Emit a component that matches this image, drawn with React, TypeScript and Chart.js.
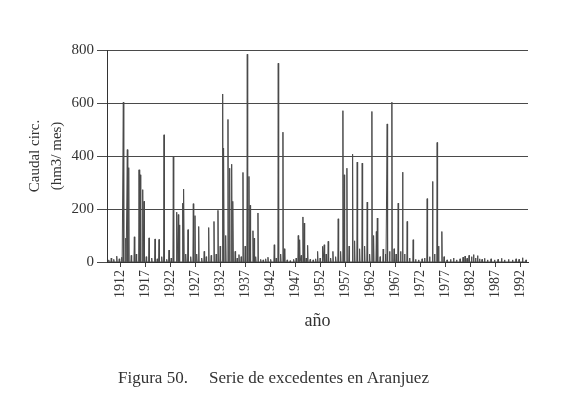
import React, { useEffect, useRef } from "react";
import Chart from "chart.js/auto";

const spikeYear = [
  1909.6, 1910.1, 1910.6, 1911.2, 1911.7, 1912.2, 1912.52, 1913.0, 1913.32, 1913.6,
  1914.1, 1914.72, 1915.1, 1915.66, 1915.92, 1916.4, 1916.66, 1917.1, 1917.66, 1918.2,
  1918.86, 1919.3, 1919.66, 1920.2, 1920.66, 1921.2, 1921.66, 1922.1, 1922.52, 1923.2,
  1923.52, 1923.75, 1924.4, 1924.62, 1925.0, 1925.46, 1926.0, 1926.52, 1926.86, 1927.2,
  1927.6, 1928.2, 1928.7, 1929.1, 1929.6, 1930.1, 1930.66, 1931.1, 1931.46, 1931.9,
  1932.4, 1932.62, 1933.0, 1933.46, 1933.8, 1934.2, 1934.46, 1934.9, 1935.3, 1935.66,
  1936.1, 1936.46, 1936.9, 1937.32, 1937.66, 1937.9, 1938.46, 1938.7, 1939.0, 1939.46,
  1940.0, 1940.5, 1941.0, 1941.46, 1942.0, 1942.72, 1943.1, 1943.52, 1944.0, 1944.46,
  1944.75, 1945.3, 1945.9, 1946.6, 1947.1, 1947.52, 1947.8, 1948.1, 1948.46, 1948.72,
  1949.1, 1949.4, 1949.9, 1950.5, 1951.0, 1951.4, 1951.9, 1952.4, 1952.72, 1953.1,
  1953.52, 1954.0, 1954.46, 1955.0, 1955.52, 1956.0, 1956.46, 1956.72, 1957.26, 1957.7,
  1958.4, 1958.8, 1959.32, 1959.8, 1960.32, 1960.8, 1961.32, 1961.8, 1962.26, 1962.6,
  1963.15, 1963.35, 1963.9, 1964.52, 1965.0, 1965.32, 1965.8, 1966.26, 1966.7, 1967.1,
  1967.52, 1968.0, 1968.4, 1968.8, 1969.32, 1969.8, 1970.52, 1971.0, 1971.6, 1972.3,
  1972.8, 1973.32, 1973.8, 1974.4, 1974.8, 1975.32, 1975.6, 1976.26, 1976.7, 1977.3,
  1978.0, 1978.6, 1979.2, 1979.9, 1980.5, 1980.9, 1981.3, 1981.7, 1982.2, 1982.6,
  1983.0, 1983.4, 1983.8, 1984.3, 1984.8, 1985.4, 1986.1, 1986.8, 1987.5, 1988.2,
  1988.8, 1989.6, 1990.4, 1991.1, 1991.7, 1992.4, 1993.1,
];

const spikeFlow = [
  8, 15, 10, 22, 12, 18, 603, 90, 424, 356,
  25, 95, 30, 348, 329, 273, 229, 20, 91, 15,
  87, 12, 85, 20, 480, 10, 45, 15, 398, 188,
  179, 140, 222, 275, 30, 122, 20, 220, 175, 30,
  134, 15, 40, 20, 130, 25, 153, 30, 195, 60,
  634, 430, 100, 538, 354, 369, 229, 40, 15, 28,
  20, 338, 60, 784, 323, 214, 118, 90, 20, 185,
  10, 8, 12, 18, 10, 65, 15, 750, 30, 490,
  50, 8, 5, 10, 15, 100, 84, 25, 170, 147,
  15, 63, 10, 8, 12, 40, 15, 59, 65, 30,
  78, 15, 40, 20, 163, 40, 571, 329, 354, 60,
  407, 80, 377, 50, 373, 60, 226, 30, 568, 100,
  115, 166, 20, 49, 30, 521, 40, 603, 50, 30,
  222, 40, 339, 30, 153, 15, 84, 10, 8, 12,
  15, 239, 20, 304, 30, 451, 60, 115, 20, 8,
  10, 15, 8, 12, 18, 22, 14, 25, 20, 28,
  15, 24, 12, 10, 14, 8, 12, 8, 10, 14,
  8, 10, 8, 12, 10, 16, 8,
];

const baseFlow = 0;
const yTickValues = [0, 200, 400, 600, 800];
const xTickYears = [1912, 1917, 1922, 1927, 1932, 1937, 1942, 1947, 1952, 1957, 1962, 1967, 1972, 1977, 1982, 1987, 1992];
const yTitle = ["Caudal circ.", "(hm3/ mes)"];
const xTitle = "año";
const captionNumber = "Figura 50.";
const captionText = "Serie de excedentes en Aranjuez";

const FONT = "'Liberation Serif', 'DejaVu Serif', serif";

export default function App() {
  const ref = useRef<HTMLCanvasElement>(null);

  useEffect(() => {
    document.body.style.margin = "0";
    const pts: { x: number; y: number }[] = [];
    spikeYear.forEach((yr, i) => {
      pts.push({ x: yr - 1 / 12, y: baseFlow });
      pts.push({ x: yr, y: spikeFlow[i] });
      pts.push({ x: yr + 1 / 12, y: baseFlow });
    });
    pts.sort((a, b) => a.x - b.x);

    const chart = new Chart(ref.current!, {
      type: "line",
      data: {
        datasets: [
          {
            data: pts,
            borderColor: "#4a4a4a",
            borderWidth: 1,
            pointRadius: 0,
            tension: 0,
            fill: false,
          },
        ],
      },
      options: {
        animation: false,
        responsive: false,
        events: [],
        plugins: { legend: { display: false }, tooltip: { enabled: false } },
        layout: { padding: { top: 50, right: 38, bottom: 62, left: 24 } },
        scales: {
          x: {
            type: "linear",
            min: 1909.25,
            max: 1993.5,
            afterBuildTicks: (s: any) => {
              s.ticks = xTickYears.map((v) => ({ value: v }));
            },
            afterFit: (s: any) => {
              s.height = 70;
            },
            ticks: {
              autoSkip: false,
              maxRotation: 90,
              minRotation: 90,
              padding: 3,
              color: "#333",
              font: { family: FONT, size: 14 },
              callback: (v: any) => String(v),
            },
            grid: { drawOnChartArea: false, tickLength: 5, color: "#444", lineWidth: 1 },
            border: { color: "#333", width: 1 },
            title: {
              display: true,
              text: xTitle,
              color: "#333",
              padding: 0,
              font: { family: FONT, size: 18 },
            },
          },
          y: {
            min: 0,
            max: 800,
            afterBuildTicks: (s: any) => {
              s.ticks = yTickValues.map((v) => ({ value: v }));
            },
            afterFit: (s: any) => {
              s.width = 83;
            },
            ticks: {
              padding: 3,
              color: "#333",
              font: { family: FONT, size: 15 },
              callback: (v: any) => String(v),
            },
            grid: { color: "#4a4a4a", lineWidth: 1, tickLength: 10 },
            border: { color: "#333", width: 1 },
            title: {
              display: true,
              text: yTitle,
              color: "#333",
              padding: 0,
              font: { family: FONT, size: 15, lineHeight: 1.45 },
            },
          },
        },
      },
    } as any);
    return () => chart.destroy();
  }, []);

  const capStyle: React.CSSProperties = {
    position: "absolute",
    top: 368,
    font: `17px ${FONT}`,
    color: "#333",
    lineHeight: "20px",
    whiteSpace: "pre",
  };

  return (
    <div style={{ position: "relative", width: 566, height: 394, background: "#fff", overflow: "hidden" }}>
      <canvas ref={ref} width={566} height={394} style={{ display: "block", width: 566, height: 394 }} />
      <span style={{ ...capStyle, left: 118 }}>{captionNumber}</span>
      <span style={{ ...capStyle, left: 209 }}>{captionText}</span>
    </div>
  );
}
